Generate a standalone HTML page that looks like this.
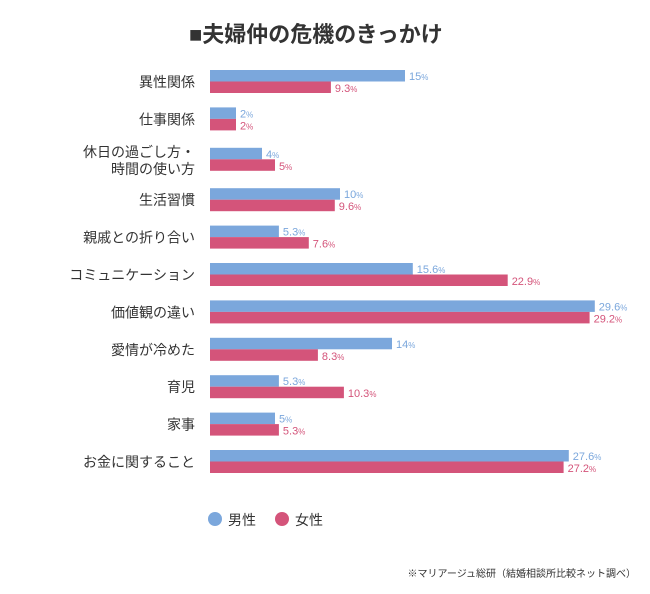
<!DOCTYPE html>
<html><head><meta charset="utf-8"><style>
body{margin:0;background:#fff;width:650px;height:589px;overflow:hidden;font-family:"Liberation Sans","Noto Sans CJK JP",sans-serif;}
svg text{font-family:"Liberation Sans","Noto Sans CJK JP",sans-serif;}
</style></head><body>
<svg id="chart" width="650" height="589">
<text x="189" y="42" font-size="22" font-weight="bold" fill="#333">■夫婦仲の危機のきっかけ</text>
<g id="bars"></g>
<g>
<circle cx="215" cy="519" r="7" fill="#7ba7dc"/>
<text x="228" y="525" font-size="14" fill="#333">男性</text>
<circle cx="282" cy="519" r="7" fill="#d4547a"/>
<text x="295" y="525" font-size="14" fill="#333">女性</text>
</g>
<text x="636" y="577" font-size="10" fill="#333" text-anchor="end">※マリアージュ総研（結婚相談所比較ネット調べ）</text>
</svg>
<script>
const categories=[["異性関係"],["仕事関係"],["休日の過ごし方・","時間の使い方"],["生活習慣"],["親戚との折り合い"],["コミュニケーション"],["価値観の違い"],["愛情が冷めた"],["育児"],["家事"],["お金に関すること"]];
const maleValues=[15,2,4,10,5.3,15.6,29.6,14,5.3,5,27.6];
const femaleValues=[9.3,2,5,9.6,7.6,22.9,29.2,8.3,10.3,5.3,27.2];
const maleLabels=["15","2","4","10","5.3","15.6","29.6","14","5.3","5","27.6"];
const femaleLabels=["9.3","2","5","9.6","7.6","22.9","29.2","8.3","10.3","5.3","27.2"];
const NS="http://www.w3.org/2000/svg";
const g=document.getElementById('bars');
const x0=210, k=13.0;
const xs=v=>x0+v*k;
const rowY=[];
{let y=70;categories.forEach((c,i)=>{if(c.length>1)y+=3;rowY.push(y);if(c.length>1)y+=3;y+=37.4;});}
const ys=i=>rowY[i];
function mk(tag,attrs){const e=document.createElementNS(NS,tag);for(const a in attrs)e.setAttribute(a,attrs[a]);g.appendChild(e);return e;}
categories.forEach((c,i)=>{
  const y=ys(i);
  const lab=mk('text',{x:195,'text-anchor':'end','font-size':14,fill:'#333'});
  
  
  if(c.length===1){lab.setAttribute('y',y+17);lab.textContent=c[0];}
  else{c.forEach((t,j)=>{const ts=document.createElementNS(NS,'tspan');ts.setAttribute('x',195);ts.setAttribute('y',y+9+j*17);ts.textContent=t;lab.appendChild(ts);});}
  const m=mk('rect',{x:x0,y:y,width:xs(maleValues[i])-x0,height:11.5,fill:'#7ba7dc'});
  
  
  const f=mk('rect',{x:x0,y:y+11.5,width:xs(femaleValues[i])-x0,height:11.5,fill:'#d4547a'});
  
  
  const mt=mk('text',{x:xs(maleValues[i])+4,y:y+10,'font-size':11,fill:'#7ba7dc'});
  
  
  mt.innerHTML=maleLabels[i]+'<tspan font-size="8">%</tspan>';
  const ft=mk('text',{x:xs(femaleValues[i])+4,y:y+22,'font-size':11,fill:'#d4547a'});
  
  
  ft.innerHTML=femaleLabels[i]+'<tspan font-size="8">%</tspan>';
});
</script>
</body></html>
